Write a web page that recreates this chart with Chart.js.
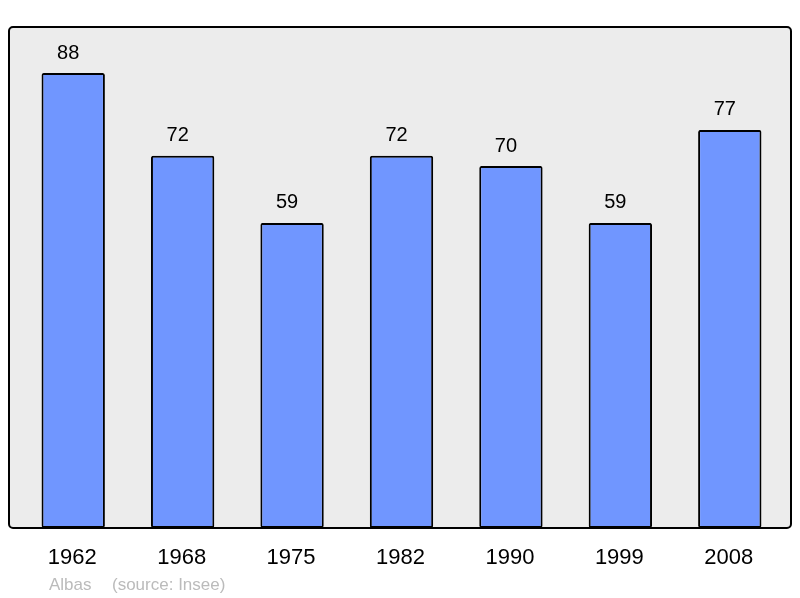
<!DOCTYPE html>
<html>
<head>
<meta charset="utf-8">
<script src="https://cdn.jsdelivr.net/npm/chart.js@4"></script>
<style>
  body { margin: 0; background: #fff; }
  #chart { display: block; }
</style>
</head>
<body>
<canvas id="chart" width="800" height="598"></canvas>
<script>
const years = ['1962', '1968', '1975', '1982', '1990', '1999', '2008'];
const population = [88, 72, 59, 72, 70, 59, 77];
const townName = 'Albas';
const sourceNote = '(source: Insee)';

// frame + labels drawn around the chart area
const framePlugin = {
  id: 'frame',
  beforeDraw(chart) {
    const ctx = chart.ctx;
    const a = chart.chartArea;
    ctx.save();
    ctx.fillStyle = '#ececec';
    ctx.beginPath();
    ctx.roundRect(9, a.top, 782, a.bottom - a.top, 4);
    ctx.fill();
    ctx.restore();
  },
  afterDatasetsDraw(chart) {
    const ctx = chart.ctx;
    const a = chart.chartArea;
    const x = chart.scales.x;
    const y = chart.scales.y;
    ctx.save();
    ctx.strokeStyle = '#000';
    ctx.lineWidth = 2;
    ctx.beginPath();
    ctx.roundRect(9, a.top, 782, a.bottom - a.top, 4);
    ctx.stroke();

    ctx.fillStyle = '#000';
    ctx.textAlign = 'center';
    ctx.textBaseline = 'alphabetic';
    ctx.font = '20px "Liberation Sans", Arial, sans-serif';
    population.forEach((v, i) => {
      ctx.fillText(String(v), x.getPixelForValue(i) - 5, y.getPixelForValue(v) - 14.5);
    });

    ctx.font = '22px "Liberation Sans", Arial, sans-serif';
    years.forEach((yr, i) => {
      ctx.fillText(yr, x.getPixelForValue(i) - 1, 564);
    });

    ctx.textAlign = 'left';
    ctx.fillStyle = '#bbbbbb';
    ctx.font = '17px "Liberation Sans", Arial, sans-serif';
    ctx.fillText(townName, 49, 590);
    ctx.fillText(sourceNote, 112, 590);
    ctx.restore();
  }
};

new Chart(document.getElementById('chart'), {
  type: 'bar',
  data: {
    labels: years,
    datasets: [{
      data: population,
      backgroundColor: '#7096ff',
      borderColor: '#000',
      borderWidth: 2,
      borderSkipped: false,
      borderRadius: 2,
      categoryPercentage: 1,
      barPercentage: 0.579
    }]
  },
  options: {
    responsive: false,
    animation: false,
    layout: { padding: { left: 18.5, right: 15.5, top: 27, bottom: 70 } },
    plugins: { legend: { display: false }, tooltip: { enabled: false } },
    scales: {
      x: { display: false },
      y: { display: false, min: 0, max: 96.9 }
    }
  },
  plugins: [framePlugin]
});
</script>
</body>
</html>
